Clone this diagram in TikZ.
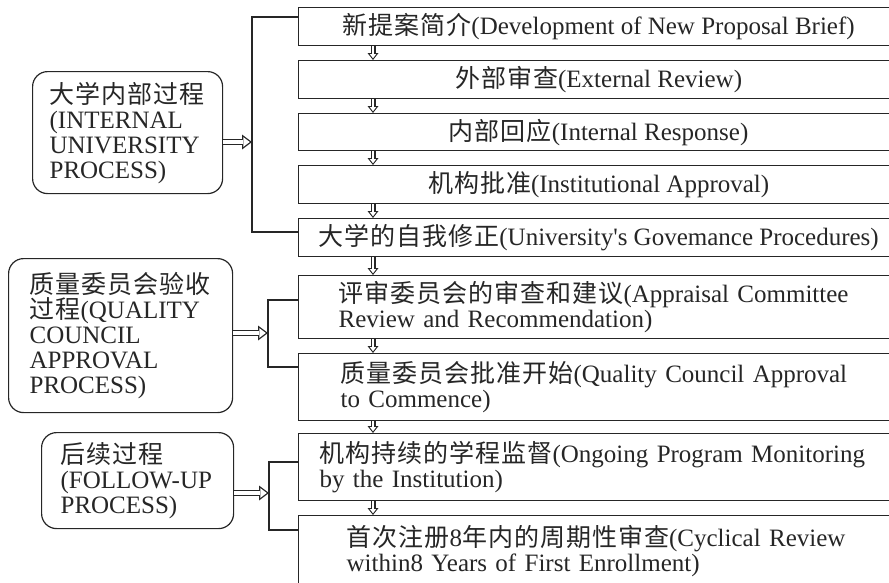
\documentclass[tikz,border=0pt]{standalone}
\usepackage{fontspec}
\setmainfont{Liberation Serif}
\newfontfamily\cjk[LetterSpace=4]{Noto Sans CJK SC}
\usetikzlibrary{arrows.meta}
\tikzset{
    stage/.style={draw, anchor=north west, minimum width=600pt, inner ysep=0pt, align=center, font=\fontsize{25}{25}\selectfont},
    proc/.style={draw, rounded corners=15pt, anchor=north west, align=left, inner ysep=0pt, font=\fontsize{25}{25}\selectfont},
    fat/.style={line width=5.8pt, -{Triangle[length=10pt, width=15pt, line width=0pt]},
        postaction={draw=white, line width=3.2pt, shorten >=2.2pt, -{Triangle[length=6.5pt, width=9.8pt, line width=0pt, color=white]}}},
    dn/.style={line width=5pt, -{Triangle[length=7pt, width=11pt, line width=0pt]},
        postaction={draw=white, line width=2.8pt, shorten >=1.8pt, -{Triangle[length=4.1pt, width=6.5pt, line width=0pt, color=white]}}}
}

\begin{document}
\begin{tikzpicture}[x=1pt, y=-1pt, line width=1.2pt, color=black!85]
    \useasboundingbox(0, 0) rectangle (889, 582);
    \clip(0, 0) rectangle (889, 582);
    % stages on the right
    \node[stage, minimum height=38pt](b1) at (298, 7){{\cjk 新提案简介}(Development of New Proposal Brief)};
    \node[stage, minimum height=38pt](b2) at (298, 60){{\cjk 外部审查}(External Review)};
    \node[stage, minimum height=37pt](b3) at (298, 113){{\cjk 内部回应}(Internal Response)};
    \node[stage, minimum height=38pt](b4) at (298, 165){{\cjk 机构批准}(Institutional Approval)};
    \node[stage, minimum height=38pt](b5) at (298, 218){{\cjk 大学的自我修正}(University\textquotesingle s Govemance Procedures)};
    \node[stage, minimum height=63pt, align=left, inner xsep=40pt, text width=520pt](b6) at (298, 275){\mbox{{\cjk 评审委员会的审查和建议}(Appraisal Committee}\\Review and Recommendation)};
    \node[stage, minimum height=67pt, align=left, inner xsep=42pt, text width=516pt](b7) at (298, 353){\mbox{{\cjk 质量委员会批准开始}(Quality Council Approval}\\to Commence)};
    \node[stage, minimum height=67pt, align=left, inner xsep=21pt, text width=558pt](b8) at (298, 433){\mbox{{\cjk 机构持续的学程监督}(Ongoing Program Monitoring}\\by the Institution)};
    \node[stage, minimum height=70pt, align=left, inner xsep=48pt, text width=504pt](b9) at (298, 515){\mbox{{\cjk 首次注册}8{\cjk 年内的周期性审查}(Cyclical Review}\\within8 Years of First Enrollment)};
    \coordinate(ax) at (373, 0);
    \foreach \a/\b in {b1/b2, b2/b3, b3/b4, b4/b5, b5/b6, b6/b7, b7/b8, b8/b9}
        \draw[dn](\a.south -| ax)--(\b.north -| ax);
    % processes on the left
    \node[proc, minimum width=190pt, minimum height=122pt, inner xsep=17pt, text width=156pt](l1) at (32, 71){\mbox{\cjk 大学内部过程}\\(INTERNAL\\UNIVERSITY\\PROCESS)};
    \node[proc, minimum width=224pt, minimum height=154pt, inner xsep=21pt, text width=182pt](l2) at (8, 258){\mbox{\cjk 质量委员会验收}\\\mbox{{\cjk 过程}(QUALITY}\\COUNCIL\\APPROVAL\\PROCESS)};
    \node[proc, minimum width=192pt, minimum height=96pt, inner xsep=19pt, text width=154pt](l3) at (41, 432){\mbox{\cjk 后续过程}\\\mbox{(FOLLOW-UP}\\PROCESS)};
    % brackets
    \coordinate(j1) at (252, 142);
    \coordinate(j2) at (268, 333);
    \coordinate(j3) at (269, 493);
    \draw([yshift=-10pt]b1.north west) -| (j1) |- ([yshift=-14pt]b5.north west);
    \draw([yshift=-25pt]b6.north west) -| (j2) |- ([yshift=-14pt]b7.north west);
    \draw([yshift=-29pt]b8.north west) -| (j3) |- ([yshift=-15pt]b9.north west);
    \draw[fat](l1.east |- j1)--(j1);
    \draw[fat](l2.east |- j2)--(j2);
    \draw[fat](l3.east |- j3)--(j3);
\end{tikzpicture}
\end{document}
